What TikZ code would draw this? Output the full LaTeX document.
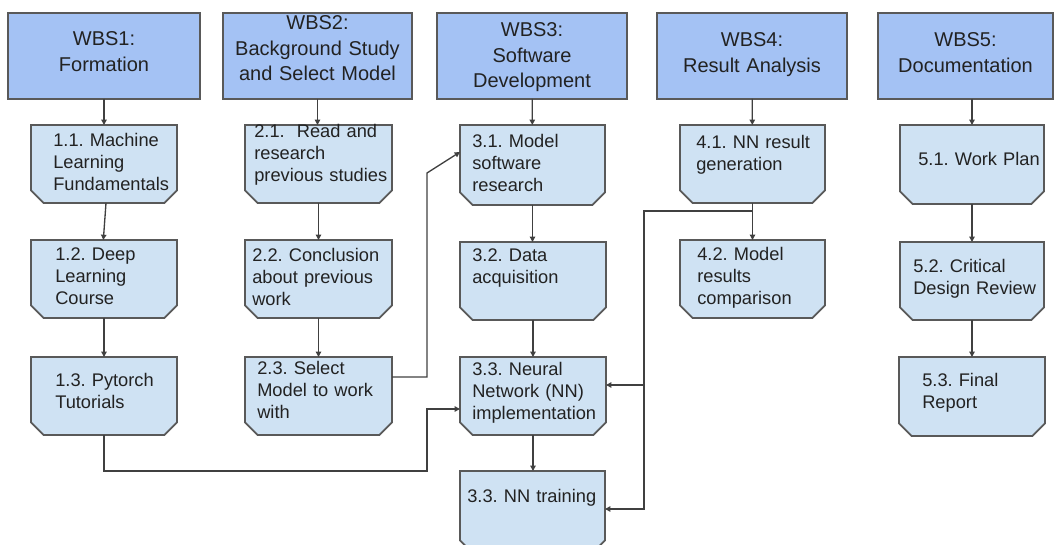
\documentclass[tikz,border=0pt]{standalone}
\usepackage{fontspec}
\setmainfont{Liberation Sans}
\usetikzlibrary{arrows.meta,fit}
\frenchspacing

\definecolor{headfill}{HTML}{A4C2F4}
\definecolor{taskfill}{HTML}{CFE2F3}
\definecolor{edgegrey}{HTML}{595959}
\definecolor{wire}{HTML}{404040}
\definecolor{ink}{HTML}{222222}

% work package box: a named rectangle area plus a chamfered outline
\newcommand{\taskbox}[5]{%
  \node[boxarea, fit={(#2,#3) (#4,#5)}] (#1) {};
  \path[taskshape] (#1.north west) -- (#1.north east)
    -- ([yshift=9.5pt]#1.south east) -- ([xshift=-9.5pt]#1.south east)
    -- ([xshift=9.5pt]#1.south west) -- ([yshift=9.5pt]#1.south west) -- cycle;
}

\begin{document}
\begin{tikzpicture}[x=0.75pt, y=-0.75pt,
  boxarea/.style={inner sep=0pt, outer sep=0pt},
  headbox/.style={boxarea, draw=edgegrey, line width=1.3pt, fill=headfill},
  taskshape/.style={draw=edgegrey, line width=1.3pt, fill=taskfill, line join=miter},
  headtext/.style={anchor=base, inner sep=0pt, text width=200pt, align=center,
    text=ink, font=\fontsize{15pt}{19pt}\selectfont},
  tasktext/.style={anchor=base west, inner sep=0pt, text width=150pt, align=left,
    text=ink, font=\fontsize{13.7pt}{16.5pt}\selectfont},
  conn/.style={draw=wire, line width=1pt, -{Triangle[length=4pt, width=4pt]}}
]
\useasboundingbox (0,0) rectangle (1054,545);
\clip (0,0) rectangle (1054,545);

% ---- top level packages
\node[headbox, fit={(8,13) (200,99)}] (h1) {};
\node[headbox, fit={(223,13) (412,99)}] (h2) {};
\node[headbox, fit={(437,13) (627,99)}] (h3) {};
\node[headbox, fit={(657,13) (847,99)}] (h4) {};
\node[headbox, fit={(878,13) (1053,99)}] (h5) {};

\node[headtext] (ht1) at (104,46) {WBS1:\\Formation};
\node[headtext] (ht2) at (317.5,30) {WBS2:\\Background Study\\and Select Model};
\node[headtext] (ht3) at (532,37) {WBS3:\\Software\\Development};
\node[headtext] (ht4) at (752,47) {WBS4:\\Result Analysis};
\node[headtext] (ht5) at (965.5,47) {WBS5:\\Documentation};

% ---- work packages
\taskbox{b11}{31}{125}{177}{203}
\taskbox{b12}{31}{240}{177}{318}
\taskbox{b13}{31}{357}{177}{435}
\taskbox{b21}{245}{125}{392}{203}
\taskbox{b22}{245}{240}{392}{318}
\taskbox{b23}{245}{357}{392}{435}
\taskbox{b31}{460}{125}{605}{205}
\taskbox{b32}{460}{242}{606}{320}
\taskbox{b33}{460}{357}{606}{435}
\taskbox{b34}{460}{471}{605}{553}
\taskbox{b41}{680}{125}{825}{203}
\taskbox{b42}{680}{240}{825}{318}
\taskbox{b51}{900}{125}{1044}{204}
\taskbox{b52}{900}{242}{1044}{320}
\taskbox{b53}{899}{357}{1045}{436}

\node[tasktext] (t11) at (53,147) {1.1. Machine\\Learning\\Fundamentals};
\node[tasktext] (t12) at (55,261) {1.2. Deep\\Learning\\Course};
\node[tasktext] (t13) at (55,387) {1.3. Pytorch\\Tutorials};
\node[tasktext] (t21) at (254,138) {2.1.\ \ Read and\\research\\previous studies};
\node[tasktext] (t22) at (252,262) {2.2. Conclusion\\about previous\\work};
\node[tasktext] (t23) at (257,375) {2.3. Select\\Model to work\\with};
\node[tasktext] (t31) at (472,148) {3.1. Model\\software\\research};
\node[tasktext] (t32) at (472,262) {3.2. Data\\acquisition};
\node[tasktext] (t33) at (472,376) {3.3. Neural\\Network (NN)\\implementation};
\node[tasktext] (t34) at (467,502) {3.3. NN training};
\node[tasktext] (t41) at (696,149) {4.1. NN result\\generation};
\node[tasktext] (t42) at (697,261) {4.2. Model\\results\\comparison};
\node[tasktext] (t51) at (918,166) {5.1. Work Plan};
\node[tasktext] (t52) at (913,273) {5.2. Critical\\Design Review};
\node[tasktext] (t53) at (922,387) {5.3. Final\\Report};

% ---- connectors inside each column
\draw[conn] (h1) -- (b11);
\draw[conn] ([xshift=1.5pt]b11.south) -- ([xshift=-0.5pt]b12.north);
\draw[conn] (b12) -- (b13);
\draw[conn] (h2.south) -- (h2.south |- b21.north);
\draw[conn] (b21) -- (b22);
\draw[conn] (b22) -- (b23);
\draw[conn] (h3) -- (b31);
\draw[conn] (b31.south) -- (b31.south |- b32.north);
\draw[conn] (b32) -- (b33);
\draw[conn] (b33.south) -- (b33.south |- b34.north);
\draw[conn] (h4) -- (b41);
\draw[conn] (b41) -- (b42);
\draw[conn] (b51.north |- h5.south) -- (b51.north);
\draw[conn] (b51) -- (b52);
\draw[conn] (b52) -- (b53);

% ---- links between columns
\draw[conn] ([yshift=14.25pt]b23.east) -- ++(35,0) -- ++(0,-204) -- ([yshift=9.75pt]b31.west);
\draw[conn] (b13.south) -- ++(0,36) -- ++(323,0) -- ++(0,-62) -- ([yshift=-9.75pt]b33.west);
\coordinate (split4) at ([yshift=-6pt]b41.south);
\coordinate (bus4) at ([yshift=8.25pt]b33.east -| 644,0);
\coordinate (bus4b) at ([yshift=2.25pt]b34.east -| 644,0);
\draw[conn] (split4) -- (split4 -| bus4) -- (bus4) -- ([yshift=8.25pt]b33.east);
\draw[conn] (bus4) -- (bus4b) -- ([yshift=2.25pt]b34.east);
\end{tikzpicture}
\end{document}
